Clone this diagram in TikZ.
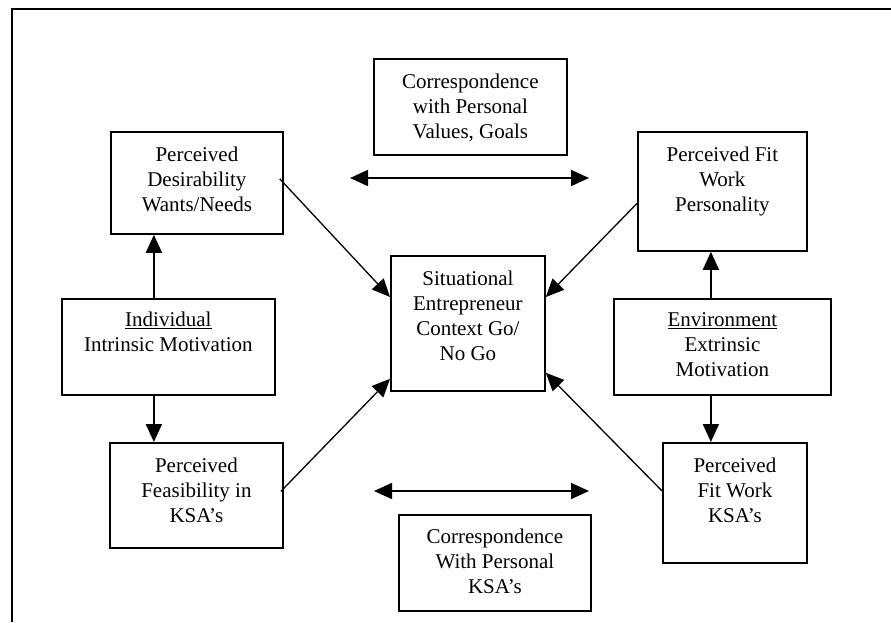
\documentclass[tikz,border=0pt]{standalone}
\usepackage{fontspec}
\setmainfont{Liberation Serif}
\usetikzlibrary{arrows.meta}
\begin{document}
\begin{tikzpicture}[x=1pt,y=-1pt,
  box/.style={draw,line width=1.8pt,rectangle,anchor=north west,inner sep=0pt},
  txt/.style={anchor=north,inner sep=0pt,align=center,font=\fontsize{21}{25}\selectfont},
  tip/.style={-{Triangle[length=18pt,width=16pt]}},
  varr/.style={line width=1.8pt,tip},
  arr/.style={line width=1.3pt,tip},
  darr/.style={line width=1.6pt,{Triangle[length=18pt,width=16pt]}-{Triangle[length=18pt,width=16pt]}}]
\useasboundingbox (0,0) rectangle (891,622);
\fill[white] (0,0) rectangle (891,622);
% frame
\coordinate (f1) at (12,622);
\coordinate (f2) at (12,9);
\coordinate (f3) at (891,9);
\draw[line width=1.8pt] (f1) -- (f2) -- (f3);
% boxes
\node[box,minimum width=193pt,minimum height=96pt] (ct) at (373,58) {};
\node[box,minimum width=172pt,minimum height=102pt] (des) at (110,131) {};
\node[box,minimum width=169pt,minimum height=119pt] (fp) at (637,131) {};
\node[box,minimum width=213pt,minimum height=96pt] (ind) at (61,298) {};
\node[box,minimum width=154pt,minimum height=135pt] (sit) at (390,255) {};
\node[box,minimum width=217pt,minimum height=96pt] (env) at (613,298) {};
\node[box,minimum width=173pt,minimum height=105pt] (fe) at (109,442) {};
\node[box,minimum width=144pt,minimum height=120pt] (fk) at (662,442) {};
\node[box,minimum width=192pt,minimum height=96pt] (cb) at (398,514) {};
% texts
\node[txt] (ct-t) at ([yshift=-16pt]ct.north) {Correspondence\\with Personal\\Values, Goals};
\node[txt] (des-t) at ([yshift=-16pt]des.north) {Perceived\\Desirability\\Wants/Needs};
\node[txt] (fp-t) at ([yshift=-16pt]fp.north) {Perceived Fit\\Work\\Personality};
\node[txt] (ind-t) at ([yshift=-14pt]ind.north) {\underline{Individual}\\Intrinsic Motivation};
\node[txt] (sit-t) at ([yshift=-16pt]sit.north) {Situational\\Entrepreneur\\Context Go/\\No Go};
\node[txt] (env-t) at ([yshift=-14pt]env.north) {\underline{Environment}\\Extrinsic\\Motivation};
\node[txt] (fe-t) at ([yshift=-16pt]fe.north) {Perceived\\Feasibility in\\KSA’s};
\node[txt] (fk-t) at ([yshift=-16pt]fk.north) {Perceived\\Fit Work\\KSA’s};
\node[txt] (cb-t) at ([yshift=-15pt]cb.north) {Correspondence\\With Personal\\KSA’s};
% vertical arrows
\draw[varr] ([xshift=-14.5pt]ind.north) -- ([xshift=-14.5pt]ind.north |- des.south);
\draw[varr] ([xshift=-14.5pt]ind.south) -- ([xshift=-14.5pt]ind.south |- fe.north);
\draw[varr] ([xshift=-11.5pt]env.north) -- ([xshift=-11.5pt]env.north |- fp.south);
\draw[varr] ([xshift=-11.5pt]env.south) -- ([xshift=-11.5pt]env.south |- fk.north);
% diagonal arrows
\draw[arr] ([xshift=-4pt,yshift=4pt]des.east) -- ([yshift=-42pt]sit.north west);
\draw[arr] ([yshift=-12pt]fp.west) -- ([yshift=-42pt]sit.north east);
\draw[arr] ([xshift=-3pt,yshift=4pt]fe.east) -- ([yshift=13pt]sit.south west);
\draw[arr] ([yshift=12pt]fk.west) -- ([yshift=19pt]sit.south east);
% double arrows
\coordinate (dt1) at (350,178);
\coordinate (dt2) at (589,178);
\coordinate (db1) at (374,491);
\coordinate (db2) at (589,491);
\draw[darr] (dt1) -- (dt2);
\draw[darr] (db1) -- (db2);
\end{tikzpicture}
\end{document}
